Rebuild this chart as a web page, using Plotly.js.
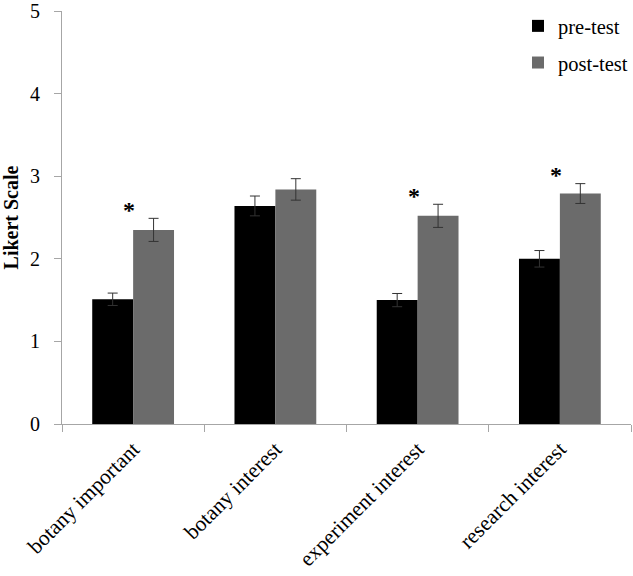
<!DOCTYPE html>
<html>
<head>
<meta charset="utf-8">
<script src="https://cdn.plot.ly/plotly-3.0.1.min.js"></script>
<style>html,body{margin:0;padding:0;background:#fff;}#chart{width:633px;height:576px;}</style>
</head>
<body>
<div id="chart"></div>
<script>
var categories = ["botany important", "botany interest", "experiment interest", "research interest"];
var preValues = [1.51, 2.64, 1.50, 2.00];
var preErrors = [0.075, 0.12, 0.08, 0.10];
var postValues = [2.35, 2.84, 2.52, 2.79];
var postErrors = [0.14, 0.13, 0.14, 0.12];
var significant = [true, false, true, true];
var yTicks = [0, 1, 2, 3, 4, 5];

var FONT = "Liberation Serif, Times New Roman, serif";

var traces = [
  {
    type: "bar", name: "pre-test", x: categories, y: preValues,
    marker: {color: "#000000"},
    error_y: {type: "data", array: preErrors, visible: true, color: "#333333", thickness: 1, width: 5},
    legendgroup: "a"
  },
  {
    type: "bar", name: "post-test", x: categories, y: postValues,
    marker: {color: "#6b6b6b"},
    error_y: {type: "data", array: postErrors, visible: true, color: "#333333", thickness: 1, width: 5},
    legendgroup: "b"
  }
];

var annotations = [];
for (var i = 0; i < categories.length; i++) {
  if (significant[i]) {
    annotations.push({
      x: categories[i], y: postValues[i] + postErrors[i] + 0.14,
      xref: "x", yref: "y", text: "<b>*</b>", showarrow: false,
      xshift: -4, yshift: -3,
      font: {family: FONT, size: 24, color: "#000000"}
    });
  }
}

var layout = {
  width: 633, height: 576,
  margin: {l: 62, r: 1, t: 11, b: 152},
  paper_bgcolor: "#fff", plot_bgcolor: "#fff",
  barmode: "group", bargap: 0.425, bargroupgap: 0,
  font: {family: FONT, size: 20, color: "#000"},
  showlegend: true,
  legend: {
    x: 0.80, y: 1.012, xanchor: "left", yanchor: "top",
    font: {family: FONT, size: 20.5, color: "#000"},
    traceorder: "grouped", tracegroupgap: 7,
    bgcolor: "rgba(0,0,0,0)", itemwidth: 30
  },
  xaxis: {
    type: "category", tickson: "boundaries",
    showline: true, linecolor: "#a6a6a6", linewidth: 1,
    ticks: "outside", ticklen: 7, tickcolor: "#a6a6a6",
    tickangle: -45, ticklabelstandoff: 3,
    tickfont: {family: FONT, size: 21.5, color: "#000"},
    showgrid: false, zeroline: false, fixedrange: true
  },
  yaxis: {
    range: [0, 5], tickvals: yTicks, ticktext: yTicks.map(String),
    showline: true, linecolor: "#a6a6a6", linewidth: 1,
    ticks: "outside", ticklen: 7, tickcolor: "#a6a6a6",
    ticklabelstandoff: 10, ticklabeloverflow: "allow",
    tickfont: {family: FONT, size: 20, color: "#000"},
    showgrid: false, zeroline: false,
    title: {text: "<b>Likert Scale</b>", font: {family: FONT, size: 20, color: "#000"}, standoff: 8}
  },
  annotations: annotations
};

Plotly.newPlot("chart", traces, layout, {displayModeBar: false, staticPlot: true});
</script>
</body>
</html>
